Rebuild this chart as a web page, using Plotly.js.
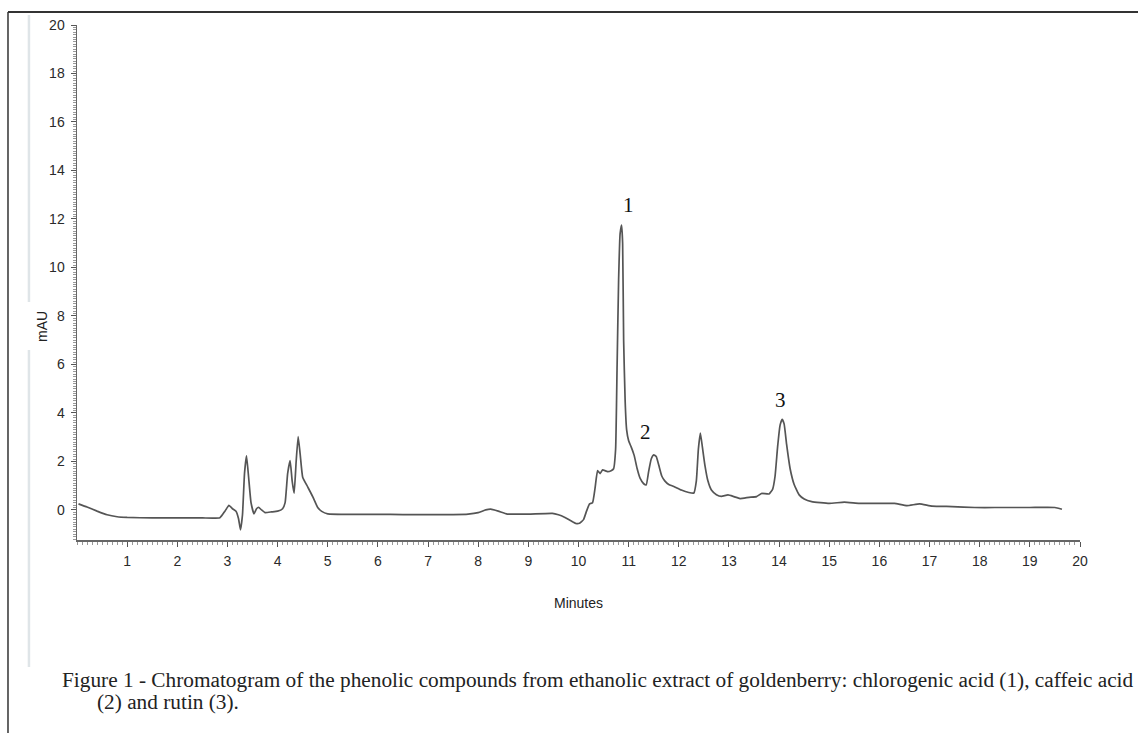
<!DOCTYPE html>
<html>
<head>
<meta charset="utf-8">
<script src="https://cdn.plot.ly/plotly-3.0.1.min.js"></script>
<style>html,body{margin:0;padding:0;background:#fff;}#chart{width:1138px;height:733px;}</style>
</head>
<body>
<div id="chart"></div>
<script>
// Retention time (minutes)
const timeMin = [0.03,0.2,0.4,0.6,0.8,1.0,1.5,2.0,2.5,2.85,2.95,3.03,3.1,3.17,3.22,3.26,3.3,3.34,3.38,3.42,3.47,3.53,3.58,3.62,3.68,3.75,3.88,4.0,4.1,4.15,4.2,4.25,4.29,4.33,4.37,4.41,4.45,4.5,4.6,4.7,4.8,4.88,5.0,5.5,6.0,6.5,7.0,7.5,7.8,8.0,8.15,8.25,8.4,8.58,9.0,9.48,9.6,9.72,9.85,9.95,10.02,10.1,10.16,10.22,10.28,10.33,10.38,10.43,10.48,10.58,10.65,10.70,10.74,10.77,10.80,10.83,10.86,10.88,10.90,10.93,10.96,11.0,11.05,11.11,11.17,11.23,11.3,11.35,11.4,11.45,11.5,11.55,11.6,11.66,11.72,11.8,11.9,12.05,12.2,12.3,12.35,12.39,12.43,12.47,12.52,12.58,12.65,12.75,12.85,12.98,13.1,13.22,13.4,13.55,13.65,13.8,13.87,13.92,13.97,14.02,14.06,14.1,14.15,14.22,14.3,14.4,14.5,14.65,15.0,15.3,15.6,16.0,16.3,16.55,16.8,17.05,17.45,17.9,18.3,19.0,19.5,19.64];
// Absorbance (mAU)
const absorbance = [0.25,0.12,-0.05,-0.2,-0.28,-0.31,-0.33,-0.33,-0.33,-0.32,-0.05,0.19,0.05,-0.05,-0.35,-0.82,-0.2,1.5,2.23,1.4,0.3,-0.16,0.05,0.11,0.0,-0.11,-0.08,-0.05,0.05,0.3,1.5,2.03,1.2,0.69,2.0,3.02,2.3,1.35,0.95,0.55,0.1,-0.06,-0.16,-0.18,-0.18,-0.19,-0.19,-0.19,-0.17,-0.11,0.0,0.03,-0.05,-0.17,-0.17,-0.14,-0.2,-0.3,-0.45,-0.56,-0.55,-0.4,-0.05,0.25,0.3,0.9,1.62,1.5,1.65,1.58,1.62,1.70,2.5,6.0,9.5,11.4,11.75,11.0,7.0,4.5,3.3,2.85,2.6,2.25,1.7,1.3,1.08,1.03,1.6,2.1,2.27,2.2,1.85,1.4,1.2,1.05,0.97,0.82,0.72,0.7,1.2,2.5,3.17,2.6,1.85,1.2,0.82,0.63,0.56,0.62,0.55,0.47,0.52,0.55,0.68,0.66,0.85,1.4,2.6,3.5,3.74,3.55,2.7,1.7,1.05,0.62,0.45,0.34,0.27,0.32,0.27,0.27,0.27,0.18,0.25,0.16,0.14,0.10,0.10,0.10,0.10,0.03];
const xTickVals = [1,2,3,4,5,6,7,8,9,10,11,12,13,14,15,16,17,18,19,20];
const yTickVals = [0,2,4,6,8,10,12,14,16,18,20];
const peakLabels = ["1","2","3"];
const peakX = [11.0, 11.34, 14.03];
const peakY = [12.58, 3.22, 4.54];
const captionLine1 = "Figure 1 - Chromatogram of the phenolic compounds from ethanolic extract of goldenberry: chlorogenic acid (1), caffeic acid";
const captionLine2 = "(2) and rutin (3).";

const tickFont = {family: "Liberation Sans, Arial, sans-serif", size: 14, color: "#2a2a2a"};
const serif = "Liberation Serif, Times New Roman, serif";

const annotations = peakLabels.map((t, i) => ({
  x: peakX[i], y: peakY[i], xref: "x", yref: "y", text: t, showarrow: false,
  xanchor: "center", yanchor: "middle",
  font: {family: serif, size: 21, color: "#111"}
}));
annotations.push(
  {x: 0.5, y: -0.1223, xref: "paper", yref: "paper", xanchor: "center", yanchor: "middle", text: "Minutes", showarrow: false,
   font: {family: "Liberation Sans, Arial, sans-serif", size: 14, color: "#222"}},
  {x: -0.0349, y: 0.4155, xref: "paper", yref: "paper", xanchor: "center", yanchor: "middle", text: "mAU", textangle: -90, showarrow: false,
   font: {family: "Liberation Sans, Arial, sans-serif", size: 14, color: "#222"}},
  {x: -0.0169, y: -0.272, xref: "paper", yref: "paper", xanchor: "left", yanchor: "middle", text: captionLine1, showarrow: false,
   font: {family: serif, size: 21.3, color: "#222"}},
  {x: 0.0179, y: -0.3146, xref: "paper", yref: "paper", xanchor: "left", yanchor: "middle", text: captionLine2, showarrow: false,
   font: {family: serif, size: 21.3, color: "#222"}}
);

const shapes = [
  {type: "line", xref: "paper", yref: "paper", x0: -0.0688, x1: 1.06, y0: 1.0252, y1: 1.0252, line: {color: "#333", width: 2}},
  {type: "line", xref: "paper", yref: "paper", x0: -0.0688, x1: -0.0688, y0: 1.0252, y1: -0.38, line: {color: "#333", width: 1.5}},
  {type: "line", xref: "paper", yref: "paper", x0: -0.0479, x1: -0.0479, y0: 1.0194, y1: 0.4621, line: {color: "#dfe5e8", width: 2.5}},
  {type: "line", xref: "paper", yref: "paper", x0: -0.0479, x1: -0.0479, y0: 0.3689, y1: -0.2466, line: {color: "#dfe5e8", width: 2.5}}
];

const trace = {
  x: timeMin, y: absorbance, type: "scatter", mode: "lines",
  line: {color: "#555", width: 1.7, shape: "spline", smoothing: 0.4},
  hoverinfo: "x+y"
};

const layout = {
  width: 1138, height: 733,
  margin: {l: 77, r: 58, t: 25, b: 193},
  paper_bgcolor: "#fff", plot_bgcolor: "#fff",
  showlegend: false,
  xaxis: {
    range: [0, 20], tickvals: xTickVals, ticks: "outside", ticklen: 5, tickwidth: 1, tickcolor: "#555",
    showline: true, linecolor: "#666", linewidth: 1.5, showgrid: false, zeroline: false,
    tickfont: tickFont, ticklabelstandoff: 3,
    minor: {dtick: 0.1, tick0: 0, ticks: "outside", ticklen: 3, tickcolor: "#999", tickwidth: 1, showgrid: false}
  },
  yaxis: {
    range: [-1.24, 20], tickvals: yTickVals, ticks: "outside", ticklen: 5, tickwidth: 1, tickcolor: "#555",
    showline: true, linecolor: "#666", linewidth: 1.5, showgrid: false, zeroline: false,
    tickfont: tickFont, ticklabelstandoff: 3,
    minor: {dtick: 0.1, tick0: 0, ticks: "outside", ticklen: 3, tickcolor: "#999", tickwidth: 1, showgrid: false}
  },
  annotations: annotations,
  shapes: shapes
};

Plotly.newPlot("chart", [trace], layout, {displayModeBar: false, staticPlot: true});
</script>
</body>
</html>
